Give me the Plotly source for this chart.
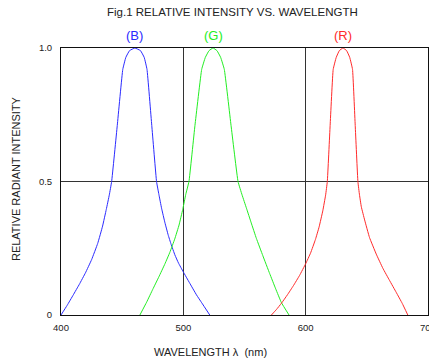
import plotly.graph_objects as go

# Data (wavelength in nm, relative intensity)
blue_wl = [400, 405, 410, 415, 420, 425, 430, 434, 437, 439.5, 441.4, 446.0, 450.5, 453.0, 456.0, 460.4,
           465.0, 468.0, 470.3, 474.2, 478.1, 480, 482.2, 485, 487.6, 490, 493.1, 496, 499.9, 505.0,
           510.8, 515.0, 521.6]
blue_val = [0.0, 0.036, 0.075, 0.115, 0.158, 0.207, 0.268, 0.333, 0.395, 0.45, 0.5, 0.71, 0.92, 0.965, 0.99, 1.0,
            0.99, 0.965, 0.92, 0.71, 0.5, 0.452, 0.40, 0.345, 0.30, 0.265, 0.225, 0.195, 0.162, 0.121,
            0.075, 0.046, 0.0]

green_wl = [464.5, 470.0, 475.0, 480.0, 485.0, 489.0, 493.0, 496.5, 499.5, 502.0, 504.6, 509.5, 515.0, 518.0,
            521.0, 524.3, 527.5, 530.5, 533.5, 539.0, 544.7, 548.0, 551.6, 555.5, 559.7, 565.0, 570.6,
            575.5, 580.2, 586.4]
green_val = [0.0, 0.048, 0.096, 0.143, 0.192, 0.235, 0.285, 0.337, 0.395, 0.452, 0.5, 0.71, 0.92, 0.965,
             0.99, 1.0, 0.99, 0.965, 0.92, 0.71, 0.5, 0.45, 0.40, 0.345, 0.287, 0.222, 0.155,
             0.098, 0.046, 0.0]

red_wl = [572.0, 576.0, 580.2, 585.0, 590.0, 595.0, 600.0, 604.0, 608.0, 611.0, 614.0, 616.3, 617.7, 620.0,
          622.5, 625.0, 627.5, 630.5, 633.5, 636.0, 638.3, 640.5, 642.7, 644.0, 645.5, 648.2, 652.2, 657.7,
          663.1, 668.5, 674.0, 679.0, 683.5]
red_val = [0.0, 0.020, 0.044, 0.075, 0.110, 0.148, 0.192, 0.232, 0.283, 0.330, 0.390, 0.449, 0.5, 0.71,
           0.92, 0.965, 0.99, 1.0, 0.99, 0.965, 0.92, 0.71, 0.5, 0.45, 0.405, 0.356, 0.29, 0.228,
           0.175, 0.13, 0.085, 0.043, 0.0]

series = [("(B)", blue_wl, blue_val, "#2a2aff"),
          ("(G)", green_wl, green_val, "#22ee22"),
          ("(R)", red_wl, red_val, "#ff2a2a")]

x_ticks = [400, 500, 600, 700]
y_ticks = [0, 0.5, 1.0]
y_tick_text = ["0", "0.5", "1.0"]

FONT = "Arial, Liberation Sans, sans-serif"

fig = go.Figure()
annotations = []
for name, wl, val, color in series:
    fig.add_trace(go.Scatter(x=wl, y=val, mode="lines", name=name,
                             line=dict(color=color, width=1, shape="spline", smoothing=0.3),
                             hoverinfo="skip", showlegend=False))
    peak_idx = val.index(max(val))
    annotations.append(dict(x=wl[peak_idx], y=1.0, xref="x", yref="y", yshift=13,
                            text=name, showarrow=False,
                            font=dict(family=FONT, size=13, color=color)))

annotations.append(dict(x=0.467, y=1.135, xref="paper", yref="paper",
                        text="Fig.1 RELATIVE INTENSITY VS. WAVELENGTH", showarrow=False,
                        font=dict(family=FONT, size=11.5, color="#222"), xanchor="center", yanchor="middle"))
annotations.append(dict(x=0.406, y=-0.139, xref="paper", yref="paper",
                        text="WAVELENGTH λ  (nm)", showarrow=False,
                        font=dict(family=FONT, size=11, color="#222"), xanchor="center", yanchor="middle"))
annotations.append(dict(x=-0.124, y=0.511, xref="paper", yref="paper", textangle=-90,
                        text="RELATIVE RADIANT INTENSITY", showarrow=False,
                        font=dict(family=FONT, size=11, color="#222"), xanchor="center", yanchor="middle"))

fig.update_layout(
    width=429, height=361,
    margin=dict(l=61, r=1, t=48, b=46, autoexpand=False),
    paper_bgcolor="white", plot_bgcolor="white",
    annotations=annotations,
    font=dict(family=FONT, size=9.5, color="#222"),
)
fig.update_xaxes(range=[400, 700], tickvals=x_ticks, ticktext=[str(t) for t in x_ticks],
                 showgrid=True, gridcolor="#333", gridwidth=1,
                 showline=True, linecolor="#111", linewidth=1, mirror=True,
                 zeroline=False, ticks="", ticklabelstandoff=4, ticklabeloverflow="allow",
                 automargin=False,
                 tickfont=dict(family=FONT, size=9.5, color="#222"))
fig.update_yaxes(range=[0, 1.0], tickvals=y_ticks, ticktext=y_tick_text,
                 showgrid=True, gridcolor="#333", gridwidth=1,
                 showline=True, linecolor="#111", linewidth=1, mirror=True,
                 zeroline=False, ticks="", ticklabelstandoff=6, automargin=False,
                 tickfont=dict(family=FONT, size=9.5, color="#222"))

fig.write_html("out.html", config={"displayModeBar": False, "staticPlot": True},
               post_script="document.body.style.margin='0';document.body.style.overflow='hidden';")
